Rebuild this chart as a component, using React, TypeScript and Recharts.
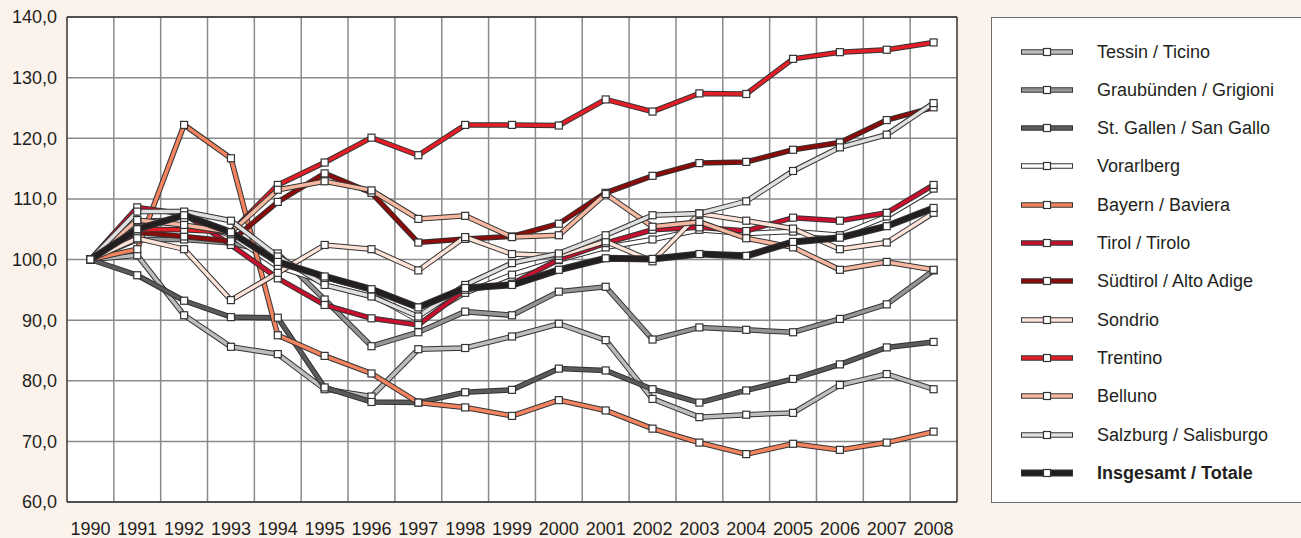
import { LineChart, Line, XAxis, YAxis, CartesianGrid, ReferenceLine } from "recharts";

const YEARS = [1990, 1991, 1992, 1993, 1994, 1995, 1996, 1997, 1998, 1999, 2000, 2001, 2002, 2003, 2004, 2005, 2006, 2007, 2008];
const Y_TICKS = [60, 70, 80, 90, 100, 110, 120, 130, 140];

const tessin = [100, 100.7, 90.8, 85.6, 84.4, 78.6, 77.4, 85.2, 85.4, 87.3, 89.4, 86.7, 77.0, 74.0, 74.4, 74.7, 79.3, 81.1, 78.6];
const graubuenden = [100, 103.3, 103.3, 102.7, 101.0, 93.4, 85.7, 88.0, 91.4, 90.8, 94.7, 95.5, 86.8, 88.8, 88.4, 88.0, 90.2, 92.6, 98.2];
const stGallen = [100, 97.4, 93.2, 90.5, 90.4, 78.9, 76.5, 76.4, 78.1, 78.5, 82.0, 81.7, 78.6, 76.4, 78.4, 80.3, 82.7, 85.5, 86.4];
const vorarlberg = [100, 106.3, 106.5, 104.0, 98.8, 96.3, 94.2, 90.0, 94.5, 97.5, 99.9, 102.0, 103.3, 104.9, 104.3, 104.6, 104.0, 107.1, 111.7];
const bayern = [100, 101.7, 122.2, 116.7, 87.5, 84.1, 81.2, 76.4, 75.6, 74.2, 76.8, 75.1, 72.1, 69.8, 67.9, 69.6, 68.6, 69.8, 71.6];
const tirol = [100, 108.6, 107.5, 102.4, 96.9, 92.5, 90.3, 89.2, 95.0, 96.0, 100.0, 102.7, 104.9, 105.3, 104.7, 106.9, 106.4, 107.7, 112.3];
const suedtirol = [100, 104.5, 103.8, 103.0, 109.5, 114.2, 111.0, 102.8, 103.4, 103.8, 105.9, 111.0, 113.8, 115.9, 116.1, 118.1, 119.3, 123.0, 125.1];
const sondrio = [100, 103.5, 101.7, 93.3, 97.8, 102.4, 101.7, 98.2, 103.7, 100.9, 100.6, 103.0, 99.7, 107.6, 106.4, 105.1, 101.7, 102.8, 107.7];
const trentino = [100, 105.0, 104.9, 104.5, 112.3, 116.0, 120.1, 117.2, 122.2, 122.2, 122.1, 126.4, 124.4, 127.4, 127.3, 133.1, 134.2, 134.6, 135.8];
const belluno = [100, 106.5, 105.7, 104.5, 111.5, 112.9, 111.4, 106.7, 107.2, 103.7, 104.0, 110.8, 105.4, 106.2, 103.5, 102.0, 98.3, 99.6, 98.3];
const salzburg = [100, 107.9, 107.9, 106.4, 100.5, 95.8, 93.9, 90.6, 95.8, 99.4, 101.0, 104.0, 107.3, 107.6, 109.6, 114.6, 118.5, 120.6, 125.8];
const total = [100, 105.0, 107.3, 104.5, 99.6, 97.2, 95.1, 92.1, 95.3, 95.8, 98.3, 100.2, 100.1, 100.9, 100.6, 102.9, 103.6, 105.5, 108.5];

const SERIES = [
  { key: "tessin", name: "Tessin / Ticino", color: "#BDBDBD", values: tessin },
  { key: "graubuenden", name: "Graubünden / Grigioni", color: "#959595", values: graubuenden },
  { key: "stGallen", name: "St. Gallen / San Gallo", color: "#5A5A5A", values: stGallen },
  { key: "vorarlberg", name: "Vorarlberg", color: "#FFFFFF", values: vorarlberg },
  { key: "bayern", name: "Bayern / Baviera", color: "#F4845F", values: bayern },
  { key: "tirol", name: "Tirol / Tirolo", color: "#C8102E", values: tirol },
  { key: "suedtirol", name: "Südtirol / Alto Adige", color: "#8B0A0A", values: suedtirol },
  { key: "sondrio", name: "Sondrio", color: "#FDE3D8", values: sondrio },
  { key: "trentino", name: "Trentino", color: "#E41E26", values: trentino },
  { key: "belluno", name: "Belluno", color: "#F6B8A0", values: belluno },
  { key: "salzburg", name: "Salzburg / Salisburgo", color: "#E0E0E0", values: salzburg },
  { key: "total", name: "Insgesamt / Totale", color: "#231F20", values: total, bold: true },
];

const data = YEARS.map((year, i) => {
  const row: Record<string, number> = { year };
  SERIES.forEach((s) => (row[s.key] = s.values[i]));
  return row;
});

// cell boundaries between the years
const BOUNDS = YEARS.slice(0, -1).map((y) => y + 0.5);

const FONT = "'Liberation Sans', Arial, sans-serif";
const fmt = (v: number) => v.toFixed(1).replace(".", ",");

const SquareDot = (props: any) => {
  const { cx, cy, index } = props;
  if (cx == null || cy == null) return <g key={index} />;
  return <rect key={index} x={cx - 3.5} y={cy - 3.5} width={7} height={7} fill="#fff" stroke="#333" strokeWidth={1.2} />;
};

function LegendBox() {
  return (
    <div
      style={{
        position: "absolute",
        left: 991,
        top: 17,
        width: 330,
        height: 484,
        background: "#fff",
        border: "1.5px solid #6e6e6e",
        fontFamily: FONT,
        fontSize: 18,
        color: "#231F20",
      }}
    >
      {SERIES.map((s, i) => (
        <div key={s.key} style={{ position: "absolute", left: 0, top: 33.5 + i * 38.3 - 12, height: 24, width: 320 }}>
          <svg width={56} height={24} style={{ position: "absolute", left: 27, top: 0 }}>
            <line x1={2} y1={12} x2={54} y2={12} stroke="#333" strokeWidth={s.bold ? 7 : 5.5} />
            <line x1={3} y1={12} x2={53} y2={12} stroke={s.color} strokeWidth={s.bold ? 5 : 3.5} />
            <rect x={24.5} y={8.5} width={7} height={7} fill="#fff" stroke="#333" strokeWidth={1.2} />
          </svg>
          <span style={{ position: "absolute", left: 105, top: 1, lineHeight: "22px", fontWeight: s.bold ? 700 : 400, whiteSpace: "nowrap" }}>
            {s.name}
          </span>
        </div>
      ))}
    </div>
  );
}

export default function App() {
  return (
    <div style={{ position: "fixed", left: 0, top: 0, width: 1301, height: 538, overflow: "hidden", background: "#FCF2EC" }}>
      <LineChart width={975} height={538} data={data} margin={{ top: 17, right: 18, bottom: 0, left: 7 }}>
        <CartesianGrid vertical={false} stroke="#8a8a8a" strokeWidth={1.5} fill="#fff" fillOpacity={1} />
        <XAxis
          dataKey="year"
          type="number"
          domain={[1989.5, 2008.5]}
          ticks={YEARS}
          interval={0}
          height={36}
          tickLine={false}
          axisLine={false}
          tickMargin={14}
          tick={{ fontSize: 18, fill: "#231F20", fontFamily: FONT }}
        />
        <YAxis
          type="number"
          domain={[60, 140]}
          ticks={Y_TICKS}
          width={60}
          tickLine={false}
          axisLine={false}
          tickMargin={4}
          tickFormatter={fmt}
          tick={{ fontSize: 18, fill: "#231F20", fontFamily: FONT }}
        />
        {BOUNDS.map((b) => (
          <ReferenceLine key={b} x={b} stroke="#8a8a8a" strokeWidth={1.5} />
        ))}
        <ReferenceLine x={1989.5} stroke="#333" strokeWidth={1.5} />
        <ReferenceLine x={2008.5} stroke="#333" strokeWidth={1.5} />
        <ReferenceLine y={60} stroke="#333" strokeWidth={1.5} />
        <ReferenceLine y={140} stroke="#333" strokeWidth={1.5} />
        {SERIES.flatMap((s) => [
          <Line
            key={s.key + "-outline"}
            dataKey={s.key}
            stroke="#333"
            strokeWidth={s.bold ? 7 : 5.5}
            dot={false}
            activeDot={false}
            legendType="none"
            isAnimationActive={false}
          />,
          <Line
            key={s.key}
            dataKey={s.key}
            name={s.name}
            stroke={s.color}
            strokeWidth={s.bold ? 5 : 3.5}
            dot={SquareDot}
            activeDot={false}
            isAnimationActive={false}
          />,
        ])}
      </LineChart>
      <LegendBox />
    </div>
  );
}
